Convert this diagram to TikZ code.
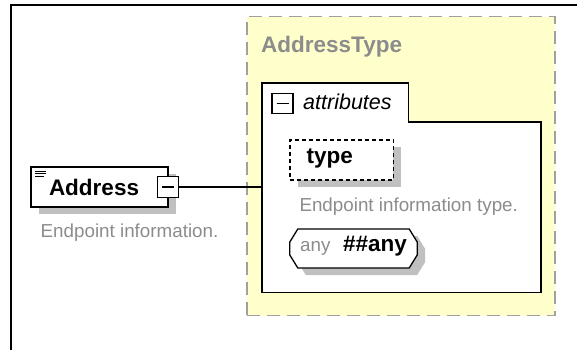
\documentclass[tikz,border=0pt]{standalone}
\usepackage{fontspec}
\setmainfont{Liberation Sans}
\usetikzlibrary{shadows}

\definecolor{typefill}{HTML}{FFFFCC}
\definecolor{typeline}{HTML}{A0A0A0}
\definecolor{doctext}{HTML}{8C8C8C}
\definecolor{shadowgray}{HTML}{C0C0C0}

\newcommand{\boldtxt}{\fontsize{22.5}{26}\selectfont\bfseries}
\newcommand{\doctxt}{\fontsize{18.8}{22}\selectfont\color{doctext}}

\tikzset{
  framerule/.style={line width=2pt},
  typepanel/.style={fill=typefill, draw=typeline, line width=1.5pt,
    dash pattern=on 13pt off 7pt, inner sep=0pt, outer sep=0pt},
  hidden/.style={inner sep=0pt, outer sep=0pt},
  panelline/.style={draw, fill=white, line width=1.6pt},
  elemshadow/.style={drop shadow={shadow xshift=8pt, shadow yshift=-7pt,
    fill=shadowgray, opacity=1}},
  elembox/.style={draw, fill=white, line width=1.3pt, inner sep=0pt,
    outer sep=0pt, elemshadow},
  attrbox/.style={elembox, dash pattern=on 4pt off 3pt},
  anyline/.style={draw, fill=white, line width=1.3pt, elemshadow},
  minusbtn/.style={draw, fill=white, line width=1.2pt, minimum size=21pt,
    inner sep=0pt, path picture={\draw[line width=1.2pt]
      ([xshift=4.5pt]path picture bounding box.west) --
      ([xshift=-4.5pt]path picture bounding box.east);}},
  conn/.style={line width=1.3pt},
}

\begin{document}
\begin{tikzpicture}[x=1pt,y=-1pt]
\useasboundingbox (0,0) rectangle (577,350);

% frame
\draw[framerule] (11,350) -- (11,5.5) -- (577,5.5);

% complex type
\node[typepanel, anchor=north west, minimum width=308pt, minimum height=299pt]
  (addrtype) at (247,16.7) {};
\node[anchor=base west, inner sep=0pt] (typename) at (261,52.3)
  {\boldtxt\color{doctext}AddressType};

% attributes panel
\node[hidden, anchor=north west, minimum width=146.5pt, minimum height=38.4pt]
  (attrtab) at (262,83.3) {};
\node[hidden, anchor=north west, minimum width=279pt, minimum height=170.6pt]
  (attrbody) at (262,121.7) {};
\draw[panelline] (attrtab.north west) -- (attrtab.north east) -- (attrtab.south east)
  -- (attrbody.north east) -- (attrbody.south east) -- (attrbody.south west) -- cycle;
\node[minusbtn, minimum height=20pt] (attrminus) at (282.5,103.3) {};
\node[anchor=base west, inner sep=0pt] (attrlabel) at (303,110)
  {\fontsize{21.5}{24}\selectfont\itshape attributes};

\node[attrbox, anchor=north west, minimum height=40pt, inner xsep=16.7pt,
  text width=70pt, align=left, text height=14pt, text depth=8pt]
  (typeattr) at (290,140) {\boldtxt type};
\node[anchor=base west, inner sep=0pt] (typedoc) at (299.3,211)
  {\doctxt Endpoint information type.};

% any attribute (chamfered box)
\node[hidden, minimum width=127.4pt, minimum height=39pt] (anyattr) at (353.5,248.5) {};
\draw[anyline] ([xshift=8pt]anyattr.north west) -- ([xshift=-8pt]anyattr.north east)
  -- ([yshift=-13pt]anyattr.north east) -- ([yshift=13pt]anyattr.south east)
  -- ([xshift=-8pt]anyattr.south east) -- ([xshift=8pt]anyattr.south west)
  -- ([yshift=13pt]anyattr.south west) -- ([yshift=-13pt]anyattr.north west) -- cycle;
\node[inner sep=0pt, text height=13pt, text depth=7.5pt] (anytext) at (anyattr.center)
  {{\doctxt any}\hspace{12.5pt}{\boldtxt\#\#any}};

% element
\node[elembox, anchor=west, minimum height=40pt, inner xsep=18pt,
  text width=101pt, align=left, text height=16pt, text depth=0pt]
  (address) at (31,187) {\boldtxt Address};
\foreach \dy/\len in {4/11,6.5/11,9/9}
  \draw[line width=0.9pt] ([xshift=4pt,yshift=-\dy pt]address.north west) -- ++(\len,0);
\node[minusbtn] (addrminus) at (address.east) {};
\node[anchor=base west, inner sep=0pt] (addrdoc) at (40.5,237.3)
  {\doctxt Endpoint information.};

\draw[conn] (addrminus.east) -- (attrbody.west |- addrminus.east);

\end{tikzpicture}
\end{document}
